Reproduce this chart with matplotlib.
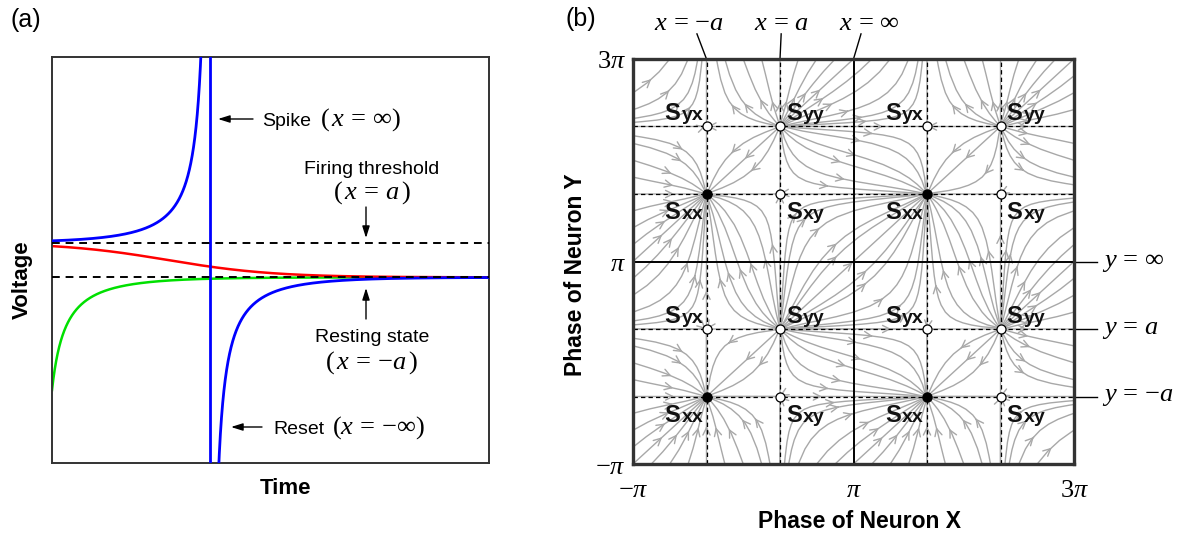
import numpy as np
import matplotlib
matplotlib.use("Agg")
import matplotlib.pyplot as plt

plt.rcParams['font.family'] = ['Liberation Sans', 'DejaVu Sans']
plt.rcParams['mathtext.fontset'] = 'custom'
plt.rcParams['mathtext.rm'] = 'Liberation Serif'
plt.rcParams['mathtext.it'] = 'Liberation Serif:italic'
plt.rcParams['mathtext.bf'] = 'Liberation Sans:bold'
plt.rcParams['mathtext.fallback'] = 'stix'

# ---- panel (a): QIF neuron, dV/dt = V^2 - a^2
a_level = 1.0            # threshold at +a, rest at -a
v_lim = 11.7             # visible voltage range (+/-)
t_end = 4.15             # visible time range
v0_blue = 1.105          # start just above threshold -> spike
v0_red = 0.80            # start just below threshold -> decays to rest
v0_green = -7.5          # start far below rest -> recovers to rest

# ---- panel (b): two uncoupled theta neurons
theta0 = np.pi / 3       # phase of x = a  (x = -a at -theta0)
shifts = [0.0, 2 * np.pi]
tick_pos = [-np.pi, np.pi, 3 * np.pi]
tick_txt = [r'$-\pi$', r'$\pi$', r'$3\pi$']

fig = plt.figure(figsize=(11.81, 5.33), dpi=100)
W, H = 1181, 533

def box(l, t, r, b):
    return [l / W, 1 - b / H, (r - l) / W, (b - t) / H]

# ================= (a)
ax = fig.add_axes(box(52, 57, 489, 463))
a = a_level
t_spike = np.arctanh(a / v0_blue) / a
t = np.linspace(0, t_end, 4000)

v_blue = -a / np.tanh(a * (t - t_spike))
v_blue = np.clip(v_blue, -50, 50)
v_blue[np.argmin(np.abs(t - t_spike))] = np.nan
v_red = -a * np.tanh(a * t - np.arctanh(v0_red / a))
v_green = -a / np.tanh(a * t + np.arctanh(-a / v0_green))

ax.plot(t, v_green, color='#00e000', lw=1.8, zorder=2)
ax.plot(t, v_red, color='#ff0000', lw=1.8, zorder=2)
ax.plot(t, v_blue, color='#0000ff', lw=2, zorder=3)
ax.axvline(t_spike, color='#0000ff', lw=2, zorder=3)
ax.axhline(a, color='k', ls=(0, (4, 3)), lw=1.4, zorder=4)
ax.axhline(-a, color='k', ls=(0, (4, 3)), lw=1.4, zorder=4)
ax.set_xlim(0, t_end)
ax.set_ylim(-v_lim, v_lim)
ax.set_xticks([])
ax.set_yticks([])
for s in ax.spines.values():
    s.set_color('#333333')
    s.set_linewidth(1.4)

def px(x):
    return (x - 52) / 437

def py(y):
    return (463 - y) / 406

arr = dict(arrowstyle='-|>,head_length=0.7,head_width=0.22', color='k', lw=1, shrinkA=0, shrinkB=0)
fs = 14
mfs = 19
kw = dict(transform=ax.transAxes, va='baseline')
ax.annotate('', xy=(px(218), py(119)), xytext=(px(253), py(119)), xycoords='axes fraction', arrowprops=arr)
ax.text(px(262), py(126), 'Spike', fontsize=fs, **kw)
ax.text(px(320), py(126), r'$(\,x\,=\,\infty)$', fontsize=mfs, **kw)
ax.text(px(372), py(174), 'Firing threshold', fontsize=fs, ha='center', **kw)
ax.text(px(372), py(199), r'$(\,x\,=\,a\,)$', fontsize=mfs, ha='center', **kw)
ax.annotate('', xy=(px(366), py(238)), xytext=(px(366), py(207)), xycoords='axes fraction', arrowprops=arr)
ax.annotate('', xy=(px(366), py(288)), xytext=(px(366), py(319)), xycoords='axes fraction', arrowprops=arr)
ax.text(px(372), py(342), 'Resting state', fontsize=fs, ha='center', **kw)
ax.text(px(372), py(369), r'$(\,x\,=\,{-a}\,)$', fontsize=mfs, ha='center', **kw)
ax.annotate('', xy=(px(231), py(427)), xytext=(px(262), py(427)), xycoords='axes fraction', arrowprops=arr)
ax.text(px(273), py(434), 'Reset', fontsize=fs, **kw)
ax.text(px(332), py(434), r'$(x\,=\,{-\infty})$', fontsize=mfs, **kw)

fig.text(22 / W, 1 - 280 / H, 'Voltage', rotation=90, fontsize=16, fontweight='bold', ha='center', va='center')
fig.text(285 / W, 1 - 489 / H, 'Time', fontsize=16, fontweight='bold', ha='center', va='center')
fig.text(26 / W, 1 - 20 / H, '(a)', fontsize=18, ha='center', va='center')

# ================= (b)
bx = fig.add_axes(box(633, 59, 1074, 464))
I_ext = -np.tan(theta0 / 2) ** 2
g = np.linspace(-np.pi, 3 * np.pi, 241)
X, Y = np.meshgrid(g, g)
U = (1 - np.cos(X)) + (1 + np.cos(X)) * I_ext
V = (1 - np.cos(Y)) + (1 + np.cos(Y)) * I_ext
bx.streamplot(X, Y, U, V, density=0.85, color='#a8a8a8', linewidth=1.0,
              arrowsize=1.3, arrowstyle='->', broken_streamlines=False, zorder=1)

lines_dash = [-theta0, theta0, 2 * np.pi - theta0, 2 * np.pi + theta0]
for p in lines_dash:
    bx.axvline(p, color='k', ls=(0, (3.5, 2.5)), lw=0.9, zorder=2)
    bx.axhline(p, color='k', ls=(0, (3.5, 2.5)), lw=0.9, zorder=2)
bx.axvline(np.pi, color='k', lw=1.4, zorder=2)
bx.axhline(np.pi, color='k', lw=1.4, zorder=2)

def s_label(x, y, sub, side, up):
    dx = -42 if side == 'l' else 6
    dy = 6 if up else -25
    bx.annotate('S', (x, y), xytext=(dx, dy), textcoords='offset pixels',
                fontsize=17, fontweight='bold', ha='left', va='baseline', color='#111111', zorder=5)
    bx.annotate(sub, (x, y), xytext=(dx + 17, dy), textcoords='offset pixels',
                fontsize=14, fontweight='bold', ha='left', va='baseline', color='#111111', zorder=5)

for sx in shifts:
    for sy in shifts:
        xm, xp = -theta0 + sx, theta0 + sx
        ym, yp = -theta0 + sy, theta0 + sy
        bx.plot([xm], [ym], 'o', ms=6.5, mfc='k', mec='k', zorder=4)
        for qx, qy in [(xp, yp), (xm, yp), (xp, ym)]:
            bx.plot([qx], [qy], 'o', ms=6.5, mfc='white', mec='k', mew=0.9, zorder=4)
        s_label(xm, ym, 'xx', 'l', False)
        s_label(xp, ym, 'xy', 'r', False)
        s_label(xm, yp, 'yx', 'l', True)
        s_label(xp, yp, 'yy', 'r', True)

bx.set_xlim(-np.pi, 3 * np.pi)
bx.set_ylim(-np.pi, 3 * np.pi)
bx.set_xticks(tick_pos)
bx.set_xticklabels(tick_txt, fontsize=19)
bx.set_yticks(tick_pos)
bx.set_yticklabels(tick_txt, fontsize=19)
bx.tick_params(axis='x', length=0, pad=10)
bx.tick_params(axis='y', length=0, pad=5)
for s in bx.spines.values():
    s.set_color('#333333')
    s.set_linewidth(2.4)
    s.set_zorder(6)

def frac(v):
    return (v + np.pi) / (4 * np.pi)

top_labels = [(r'$x\,=\,{-a}$', -theta0, 0.127, 0.145),
              (r'$x\,=\,a$', theta0, 0.336, 0.336),
              (r'$x\,=\,\infty$', np.pi, 0.537, 0.517)]
for txt, xv, tx, lx in top_labels:
    bx.plot([lx, frac(xv)], [1.062, 1.0], color='k', lw=1, transform=bx.transAxes, clip_on=False)
    bx.text(tx, 1.088, txt, transform=bx.transAxes, fontsize=19, ha='center', va='center')

right_labels = [(r'$y\,=\,\infty$', np.pi), (r'$y\,=\,a$', theta0), (r'$y\,=\,{-a}$', -theta0)]
for txt, yv in right_labels:
    bx.plot([1.0, 1.052], [frac(yv), frac(yv)], color='k', lw=1, transform=bx.transAxes, clip_on=False)
    bx.text(1.064, frac(yv), txt, transform=bx.transAxes, fontsize=19, ha='left', va='center')

fig.text(860 / W, 1 - 521 / H, 'Phase of Neuron X', fontsize=16.5, fontweight='bold', ha='center', va='center')
fig.text(576 / W, 1 - 275 / H, 'Phase of Neuron Y', rotation=90, fontsize=16.5, fontweight='bold', ha='center', va='center')
fig.text(581 / W, 1 - 19 / H, '(b)', fontsize=18, ha='center', va='center')

fig.savefig('out.png', dpi=100)
